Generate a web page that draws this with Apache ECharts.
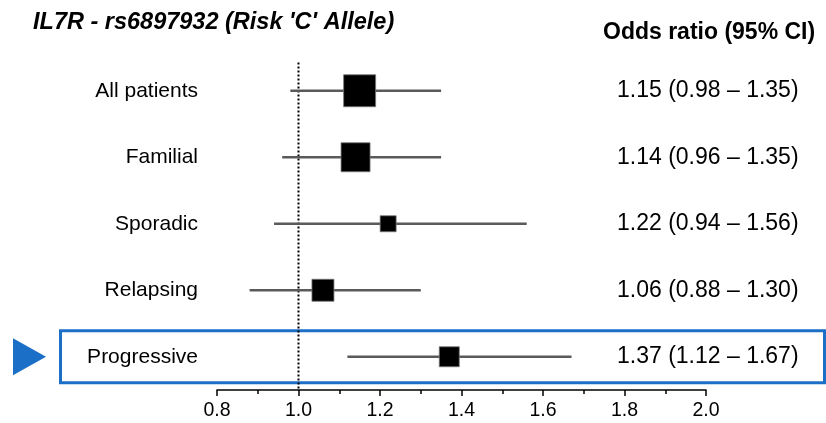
<!DOCTYPE html>
<html>
<head>
<meta charset="utf-8">
<script src="https://cdn.jsdelivr.net/npm/echarts@6/dist/echarts.min.js"></script>
<style>html,body{margin:0;padding:0;background:#fff}#c{width:826px;height:423px}</style>
</head>
<body>
<div id="c"></div>
<script>
// Data
var groups = ['All patients', 'Familial', 'Sporadic', 'Relapsing', 'Progressive'];
var oddsRatio = [1.15, 1.14, 1.22, 1.06, 1.37];
var ciLow = [0.98, 0.96, 0.94, 0.88, 1.12];
var ciHigh = [1.35, 1.35, 1.56, 1.30, 1.67];
var studyWeight = [32, 29, 16, 22, 20];
var xTicks = ['0.8', '1.0', '1.2', '1.4', '1.6', '1.8', '2.0'];
var nullValue = 1.0;
var highlighted = 'Progressive';

var ciLabels = groups.map(function (g, i) {
  return oddsRatio[i].toFixed(2) + ' (' + ciLow[i].toFixed(2) + ' \u2013 ' + ciHigh[i].toFixed(2) + ')';
});

var FONT = '"Liberation Sans", Arial, Helvetica, sans-serif';
var BLUE = '#1b6fc6';

var chart = echarts.init(document.getElementById('c'), null, { renderer: 'canvas' });

var seriesData = groups.map(function (g, i) {
  return [oddsRatio[i], ciLow[i], ciHigh[i], g, studyWeight[i]];
});

chart.setOption({
  animation: false,
  backgroundColor: '#fff',
  title: {
    text: "IL7R - rs6897932 (Risk 'C' Allele)",
    left: 28, top: 6,
    textStyle: { fontFamily: FONT, fontSize: 23.5, fontWeight: 'bold', fontStyle: 'italic', color: '#000' }
  },
  grid: { left: 217, right: 120, top: 57.5, bottom: 33, containLabel: false },
  xAxis: {
    type: 'value',
    min: 0.8, max: 2.0, interval: 0.2,
    axisLine: { show: true, onZero: false, lineStyle: { color: '#000', width: 1.5 } },
    axisTick: { show: true, length: 6, lineStyle: { color: '#000', width: 1.5 } },
    minorTick: { show: true, splitNumber: 2, length: 4, lineStyle: { color: '#000', width: 1.5 } },
    splitLine: { show: false },
    axisLabel: {
      margin: 11, fontFamily: FONT, fontSize: 19.5, color: '#000',
      formatter: function (v) {
        var idx = Math.round((v - 0.8) / 0.2);
        return xTicks[idx] !== undefined ? xTicks[idx] : '';
      }
    }
  },
  yAxis: [{
    type: 'category',
    data: groups,
    inverse: true,
    axisLine: { show: false },
    axisTick: { show: false },
    splitLine: { show: false },
    axisLabel: { margin: 19, fontFamily: FONT, fontSize: 21, color: '#000' }
  }, {
    type: 'category',
    data: ciLabels,
    inverse: true,
    position: 'right',
    offset: -97,
    axisLine: { show: false },
    axisTick: { show: false },
    splitLine: { show: false },
    axisLabel: { margin: 8, align: 'left', fontFamily: FONT, fontSize: 23, color: '#000' }
  }],
  series: [{
    type: 'custom',
    xAxisIndex: 0,
    yAxisIndex: 0,
    dimensions: [
      { name: 'or', type: 'float' },
      { name: 'lo', type: 'float' },
      { name: 'hi', type: 'float' },
      { name: 'group', type: 'ordinal' },
      { name: 'w', type: 'float' }
    ],
    data: seriesData,
    encode: { x: ['or', 'lo', 'hi'], y: 'group' },
    renderItem: function (params, api) {
      var y = api.value(3);
      var pc = api.coord([api.value(0), y]);
      var pl = api.coord([api.value(1), y]);
      var ph = api.coord([api.value(2), y]);
      var s = api.value(4);
      var children = [];
      if (params.dataIndex === 0) {
        var cs = params.coordSys;
        var xn = api.coord([nullValue, y])[0];
        children.push({
          type: 'line',
          shape: { x1: xn, y1: cs.y + 5, x2: xn, y2: cs.y + cs.height },
          style: { stroke: '#000', lineWidth: 2, lineDash: [2, 2] },
          z2: 0
        });
      }
      children.push({
        type: 'line',
        shape: { x1: pl[0], y1: pc[1], x2: ph[0], y2: pc[1] },
        style: { stroke: '#5a5a5a', lineWidth: 2.5 },
        z2: 1
      });
      children.push({
        type: 'rect',
        shape: { x: pc[0] - s / 2, y: pc[1] - s / 2, width: s, height: s },
        style: { fill: '#000', stroke: '#777', lineWidth: 0.8 },
        z2: 2
      });
      return { type: 'group', children: children };
    },
    z: 3
  }]
});

// Highlight box around the chosen row
var yc = chart.convertToPixel({ yAxisIndex: 0 }, highlighted);
if (typeof yc !== 'number' || isNaN(yc)) { yc = 356; }
chart.setOption({
  graphic: [{
    type: 'rect',
    shape: { x: 60.5, y: yc - 26, width: 764, height: 52 },
    style: { fill: 'none', stroke: BLUE, lineWidth: 3 },
    z: 1
  }, {
    type: 'polygon',
    shape: { points: [[13, yc - 18.5], [46, yc], [13, yc + 18.5]] },
    style: { fill: BLUE },
    z: 1
  }, {
    type: 'text',
    x: 603, y: 33,
    style: {
      text: 'Odds ratio (95% CI)', fill: '#000',
      font: 'bold 23px ' + FONT, verticalAlign: 'middle'
    }
  }]
});
</script>
</body>
</html>
